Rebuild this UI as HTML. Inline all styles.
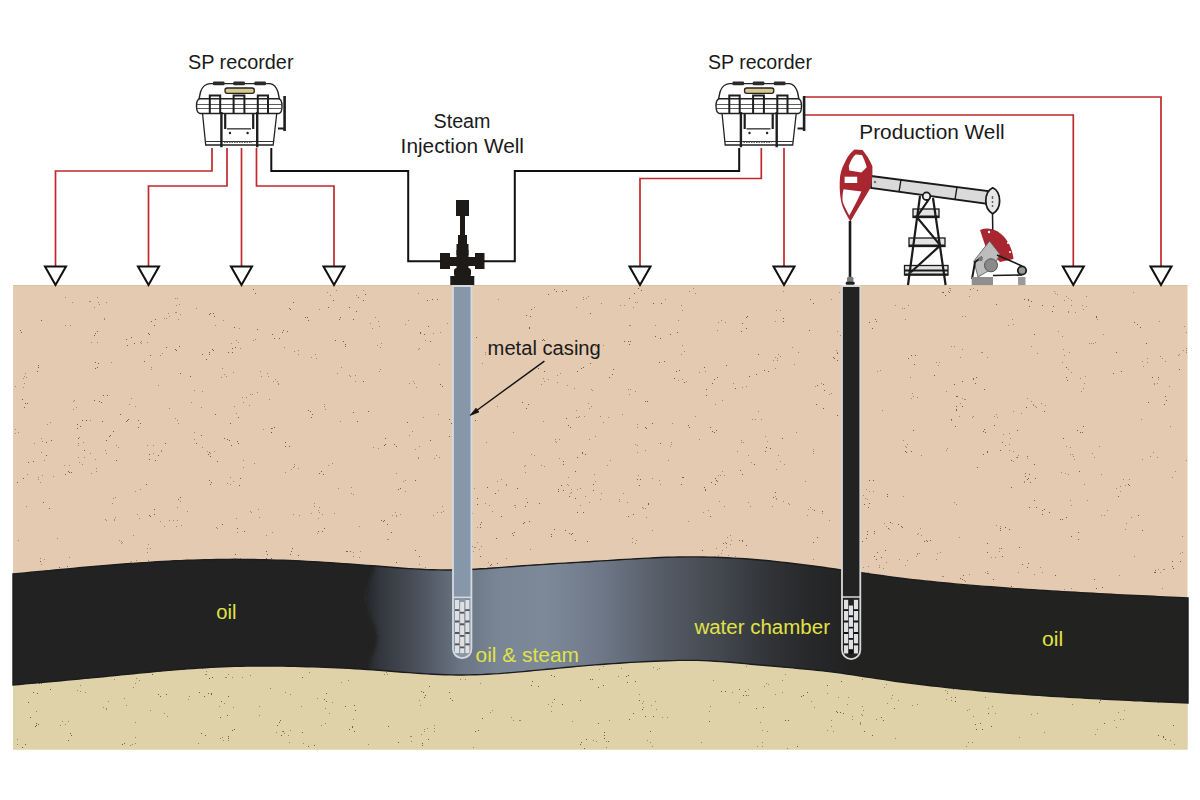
<!DOCTYPE html>
<html><head><meta charset="utf-8">
<style>
html,body{margin:0;padding:0;background:#fff;width:1200px;height:800px;overflow:hidden}
svg{display:block}
text{font-family:"Liberation Sans",sans-serif}
</style></head>
<body>
<svg width="1200" height="800" viewBox="0 0 1200 800">
<defs>
<linearGradient id="chg" x1="365" y1="0" x2="850" y2="0" gradientUnits="userSpaceOnUse"><stop offset="0.004" stop-color="#26272a"/><stop offset="0.031" stop-color="#33363c"/><stop offset="0.113" stop-color="#4c535e"/><stop offset="0.196" stop-color="#6a7482"/><stop offset="0.278" stop-color="#7a8696"/><stop offset="0.371" stop-color="#7d8999"/><stop offset="0.485" stop-color="#6e7888"/><stop offset="0.608" stop-color="#565d68"/><stop offset="0.732" stop-color="#43474e"/><stop offset="0.835" stop-color="#313337"/><stop offset="0.918" stop-color="#27282a"/><stop offset="1.000" stop-color="#222222"/></linearGradient>
<clipPath id="oilclip"><path id="oilp" d="M13 574.0 19 573.4 25 572.9 31 572.3 37 571.7 43 571.1 49 570.6 55 570.0 61 569.5 67 568.9 73 568.4 79 567.8 85 567.3 91 566.8 97 566.3 103 565.7 109 565.3 115 564.8 121 564.3 127 563.8 133 563.4 139 563.0 145 562.6 151 562.2 157 561.8 163 561.5 169 561.1 175 560.8 181 560.6 187 560.3 193 560.1 199 559.9 205 559.7 211 559.6 217 559.5 223 559.4 229 559.4 235 559.3 241 559.4 247 559.4 253 559.5 259 559.6 265 559.7 271 559.9 277 560.1 283 560.3 289 560.5 295 560.8 301 561.0 307 561.4 313 561.7 319 562.0 325 562.4 331 562.8 337 563.2 343 563.6 349 564.0 355 564.5 361 564.9 367 565.4 373 565.8 379 566.3 385 566.8 391 567.3 397 567.7 403 568.2 409 568.6 415 568.9 421 569.3 427 569.6 433 569.8 439 569.9 445 570.0 451 570.0 457 569.9 463 569.7 469 569.5 475 569.2 481 568.8 487 568.5 493 568.0 499 567.6 505 567.1 511 566.7 517 566.2 523 565.8 529 565.4 535 565.0 541 564.6 547 564.2 553 563.8 559 563.4 565 563.1 571 562.7 577 562.4 583 562.0 589 561.7 595 561.3 601 560.9 607 560.6 613 560.2 619 559.8 625 559.4 631 559.1 637 558.7 643 558.4 649 558.1 655 557.8 661 557.5 667 557.3 673 557.1 679 557.0 685 556.9 691 556.9 697 556.9 703 557.0 709 557.1 715 557.3 721 557.5 727 557.8 733 558.1 739 558.4 745 558.8 751 559.3 757 559.7 763 560.3 769 560.8 775 561.4 781 562.1 787 562.8 793 563.5 799 564.2 805 564.9 811 565.7 817 566.5 823 567.3 829 568.2 835 569.0 841 569.9 847 570.7 853 571.6 859 572.4 865 573.3 871 574.1 877 575.0 883 575.8 889 576.6 895 577.4 901 578.1 907 578.9 913 579.6 919 580.2 925 580.9 931 581.5 937 582.1 943 582.7 949 583.3 955 583.9 961 584.4 967 584.9 973 585.4 979 585.9 985 586.4 991 586.8 997 587.3 1003 587.7 1009 588.1 1015 588.6 1021 589.0 1027 589.4 1033 589.8 1039 590.2 1045 590.5 1051 590.9 1057 591.3 1063 591.6 1069 592.0 1075 592.3 1081 592.7 1087 593.0 1093 593.3 1099 593.6 1105 593.9 1111 594.3 1117 594.6 1123 594.9 1129 595.2 1135 595.5 1141 595.8 1147 596.0 1153 596.3 1159 596.6 1165 596.9 1171 597.2 1177 597.5 1188 598.0 L1188 703.0 1177 702.5 1171 702.3 1165 702.0 1159 701.7 1153 701.5 1147 701.2 1141 700.9 1135 700.7 1129 700.4 1123 700.1 1117 699.8 1111 699.5 1105 699.2 1099 698.9 1093 698.6 1087 698.3 1081 697.9 1075 697.6 1069 697.3 1063 696.9 1057 696.5 1051 696.2 1045 695.8 1039 695.4 1033 695.0 1027 694.6 1021 694.1 1015 693.7 1009 693.2 1003 692.7 997 692.3 991 691.8 985 691.2 979 690.7 973 690.1 967 689.6 961 689.0 955 688.4 949 687.8 943 687.1 937 686.4 931 685.8 925 685.1 919 684.3 913 683.6 907 682.8 901 682.0 895 681.2 889 680.3 883 679.4 877 678.5 871 677.6 865 676.7 859 675.8 853 674.9 847 674.0 841 673.1 835 672.3 829 671.6 823 670.9 817 670.3 811 669.6 805 669.0 799 668.5 793 667.9 787 667.4 781 666.9 775 666.3 769 665.8 763 665.3 757 664.7 751 664.2 745 663.6 739 663.0 733 662.5 727 662.0 721 661.6 715 661.2 709 660.8 703 660.6 697 660.4 691 660.4 685 660.4 679 660.4 673 660.6 667 660.7 661 661.0 655 661.2 649 661.5 643 661.8 637 662.1 631 662.4 625 662.8 619 663.2 613 663.6 607 664.0 601 664.5 595 664.9 589 665.4 583 665.9 577 666.4 571 667.0 565 667.5 559 668.1 553 668.7 547 669.3 541 669.9 535 670.4 529 671.0 523 671.6 517 672.1 511 672.6 505 673.1 499 673.6 493 673.9 487 674.3 481 674.6 475 674.8 469 674.9 463 675.0 457 675.0 451 674.9 445 674.7 439 674.5 433 674.2 427 673.9 421 673.5 415 673.1 409 672.6 403 672.2 397 671.7 391 671.2 385 670.7 379 670.3 373 669.9 367 669.5 361 669.1 355 668.7 349 668.4 343 668.1 337 667.8 331 667.5 325 667.3 319 667.1 313 666.9 307 666.7 301 666.5 295 666.4 289 666.3 283 666.1 277 666.1 271 666.0 265 666.0 259 666.0 253 666.0 247 666.1 241 666.2 235 666.3 229 666.5 223 666.8 217 667.0 211 667.3 205 667.7 199 668.1 193 668.5 187 668.9 181 669.4 175 669.8 169 670.4 163 670.9 157 671.4 151 672.0 145 672.6 139 673.1 133 673.7 127 674.3 121 674.9 115 675.5 109 676.1 103 676.7 97 677.3 91 677.9 85 678.4 79 679.0 73 679.6 67 680.1 61 680.7 55 681.2 49 681.8 43 682.3 37 682.9 31 683.4 25 683.9 19 684.5 13 685.0Z"/></clipPath>
<filter id="blur2" x="-50%" y="-10%" width="200%" height="120%"><feGaussianBlur stdDeviation="1.6"/></filter>
<g id="rec">
  <!-- lower body -->
  <path d="M202.5 113 L276.8 113 L273.2 145 L205.7 145 Z" fill="#fff" stroke="#222" stroke-width="1.3"/>
  <line x1="205" y1="141.5" x2="273.5" y2="141.5" stroke="#333" stroke-width="1"/>
  <line x1="224" y1="142.4" x2="252" y2="142.4" stroke="#555" stroke-width="1" stroke-dasharray="1.5 1"/>
  <!-- lid -->
  <path d="M210 83.6 L270 83.6 C274 84 276 86 278 92 L280.4 104 L198 104 L200.5 92 C202.5 86 205 84 210 83.6 Z" fill="#fff" stroke="#222" stroke-width="1.4"/>
  <path d="M200 98.7 H278.5 C281 99 282 102 282 106 C282 110 281 113 279 113.5 H200 C197.5 113 196.5 110 196.5 106 C196.5 102 197.5 99 200 98.7 Z" fill="#fff" stroke="#222" stroke-width="1.4"/>
  <path d="M197 104.5 H282 M197 108.5 H282" stroke="#333" stroke-width="0.8" fill="none"/>
  <!-- tabs -->
  <g fill="#2a2a2a"><rect x="212.9" y="81.6" width="11.7" height="3.6" rx="1.2"/><rect x="233.2" y="81.6" width="11.7" height="3.6" rx="1.2"/><rect x="254.3" y="81.6" width="11.7" height="3.6" rx="1.2"/></g>
  <rect x="225" y="88" width="29.3" height="5.3" rx="2.2" fill="#d9c98c" stroke="#222" stroke-width="1.3"/>
  <!-- latches -->
  <g fill="none" stroke="#1e1e1e">
    <path d="M209.8 114 V95.5 H220.2 V114" stroke-width="2"/>
    <path d="M233.6 114 V95.5 H244.4 V114" stroke-width="2"/>
    <path d="M257.8 114 V95.5 H268 V114" stroke-width="2"/>
    <path d="M221.4 112 V147.3 M257.2 112 V147.3" stroke-width="2.4"/>
    <path d="M225.2 114 V129 M253.2 114 V129" stroke-width="2.2"/>
    <path d="M227 128.8 H251" stroke-width="1.6" stroke="#555"/>
  </g>
  <circle cx="230" cy="133" r="1.2" fill="#222"/><circle cx="247.6" cy="133" r="1.2" fill="#222"/>
  <!-- side handle -->
  <path d="M284.6 96 V131" stroke="#1e1e1e" stroke-width="2.6" fill="none"/>
  <path d="M278 128.5 H284" stroke="#1e1e1e" stroke-width="2" fill="none"/>
</g>
</defs>

<!-- ground -->
<rect x="13" y="285" width="1174.5" height="464.5" fill="#e3cab0"/>
<rect x="13" y="285" width="1174.5" height="1" fill="#d8c3a8"/>
<rect x="13" y="600" width="1174.5" height="149.5" fill="#dfd2a9"/>
<path d="M544 466.5h1M541 465.5h1M568 477.5h1M121 541.5h1M119 540.5h1M122 542.5h1M121 543.5h1M89 301.5h1M396 473.5h1M601 493.5h1M600 499.5h1M111 362.5h1M678 320.5h1M1134 556.5h1M74 400.5h1M76 407.5h1M73 401.5h1M73 409.5h1M905 319.5h1M559 439.5h1M556 442.5h1M555 441.5h1M555 439.5h1M261 376.5h1M260 371.5h1M267 373.5h1M131 591.5h1M725 542.5h1M730 544.5h1M715 404.5h1M722 400.5h1M470 486.5h1M464 480.5h1M883 580.5h1M576 307.5h1M1142 361.5h1M1147 362.5h1M1143 366.5h1M1147 358.5h1M577 489.5h1M580 488.5h1M571 489.5h1M534 307.5h1M1159 321.5h1M789 504.5h1M788 503.5h1M783 501.5h1M53 476.5h1M387 598.5h1M68 583.5h1M70 578.5h1M68 584.5h1M69 579.5h1M936 559.5h1M940 552.5h1M937 553.5h1M151 367.5h1M151 369.5h1M530 549.5h1M375 317.5h1M594 474.5h1M595 481.5h1M253 340.5h1M255 339.5h1M798 352.5h1M792 347.5h1M267 575.5h1M991 557.5h1M999 548.5h1M995 557.5h1M999 551.5h1M627 502.5h1M623 493.5h1M619 501.5h1M619 499.5h1M678 380.5h1M682 379.5h1M686 381.5h1M175 298.5h1M179 304.5h1M177 298.5h1M176 305.5h1M314 506.5h1M311 513.5h1M648 585.5h1M645 586.5h1M651 579.5h1M1107 510.5h1M1055 293.5h1M1057 294.5h1M1054 291.5h1M258 509.5h1M251 512.5h1M250 511.5h1M259 517.5h1M319 507.5h1M531 454.5h1M534 455.5h1M954 346.5h1M951 346.5h1M1072 454.5h1M1070 454.5h1M1066 446.5h1M1070 447.5h1M869 491.5h1M866 489.5h1M873 491.5h1M733 383.5h1M682 345.5h1M684 351.5h1M681 354.5h1M652 598.5h1M95 459.5h1M90 453.5h1M592 390.5h1M591 389.5h1M314 503.5h1M26 377.5h1M23 378.5h1M24 376.5h1M25 373.5h1M637 427.5h1M637 424.5h1M1027 458.5h1M735 556.5h1M419 348.5h1M418 349.5h1M425 340.5h1M293 514.5h1M299 515.5h1M842 345.5h1M837 352.5h1M844 355.5h1M836 350.5h1M906 447.5h1M903 440.5h1M905 446.5h1M907 444.5h1M239 328.5h1M1097 319.5h1M104 318.5h1M104 319.5h1M26 506.5h1M882 410.5h1M946 391.5h1M1024 481.5h1M1024 482.5h1M910 377.5h1M973 416.5h1M972 417.5h1M492 511.5h1M136 560.5h1M130 569.5h1M130 562.5h1M131 561.5h1M105 450.5h1M106 453.5h1M38 479.5h1M40 482.5h1M42 475.5h1M38 477.5h1M418 457.5h1M418 458.5h1M965 316.5h1M962 316.5h1M962 316.5h1M1013 461.5h1M1016 457.5h1M1018 455.5h1M353 494.5h1M351 487.5h1M351 493.5h1M755 419.5h1M758 411.5h1M761 419.5h1M752 419.5h1M513 432.5h1M969 574.5h1M721 320.5h1M725 322.5h1M718 322.5h1M175 418.5h1M177 420.5h1M178 423.5h1M1131 517.5h1M373 447.5h1M378 448.5h1M233 372.5h1M1158 569.5h1M1160 572.5h1M1164 569.5h1M1163 569.5h1M112 503.5h1M115 497.5h1M113 498.5h1M169 562.5h1M996 525.5h1M1000 526.5h1M778 599.5h1M784 593.5h1M784 464.5h1M776 469.5h1M585 496.5h1M580 505.5h1M724 506.5h1M719 501.5h1M437 512.5h1M433 515.5h1M1071 505.5h1M1070 500.5h1M480 578.5h1M481 578.5h1M481 578.5h1M243 467.5h1M243 460.5h1M907 560.5h1M899 559.5h1M356 295.5h1M363 290.5h1M105 519.5h1M106 520.5h1M775 368.5h1M409 435.5h1M412 431.5h1M645 508.5h1M646 517.5h1M642 507.5h1M643 508.5h1M559 458.5h1M959 416.5h1M951 420.5h1M815 386.5h1M821 383.5h1M372 328.5h1M379 326.5h1M370 323.5h1M378 321.5h1M243 402.5h1M246 397.5h1M242 397.5h1M217 528.5h1M216 527.5h1M584 416.5h1M578 417.5h1M485 354.5h1M635 444.5h1M637 452.5h1M1042 572.5h1M1040 567.5h1M202 391.5h1M194 390.5h1M737 451.5h1M18 540.5h1M334 513.5h1M114 519.5h1M114 520.5h1M115 517.5h1M982 352.5h1M987 357.5h1M981 352.5h1M668 597.5h1M668 595.5h1M665 598.5h1M783 291.5h1M916 556.5h1M917 553.5h1M919 553.5h1M917 554.5h1M794 364.5h1M379 371.5h1M380 369.5h1M180 314.5h1M176 312.5h1M178 319.5h1M175 312.5h1M1170 426.5h1M1103 334.5h1M467 393.5h1M467 389.5h1M939 362.5h1M936 362.5h1M938 365.5h1M257 392.5h1M250 394.5h1M1074 459.5h1M1073 456.5h1M1112 596.5h1M1105 595.5h1M829 394.5h1M831 393.5h1M294 466.5h1M291 469.5h1M298 468.5h1M717 330.5h1M293 467.5h1M106 302.5h1M1186 332.5h1M1184 326.5h1M629 325.5h1M630 325.5h1M405 491.5h1M486 442.5h1M748 502.5h1M750 506.5h1M1013 411.5h1M1021 413.5h1M622 414.5h1M863 567.5h1M868 572.5h1M868 566.5h1M868 566.5h1M1040 591.5h1M1035 589.5h1M482 363.5h1M1035 406.5h1M1033 405.5h1M1036 407.5h1M133 535.5h1M543 378.5h1M541 384.5h1M548 379.5h1M544 381.5h1M65 297.5h1M72 302.5h1M571 354.5h1M563 350.5h1M1018 572.5h1M1178 355.5h1M1186 352.5h1M1179 354.5h1M1186 348.5h1M509 566.5h1M506 558.5h1M277 381.5h1M278 383.5h1M273 381.5h1M278 384.5h1M153 445.5h1M147 445.5h1M796 432.5h1M637 302.5h1M635 302.5h1M633 307.5h1M236 340.5h1M240 348.5h1M231 343.5h1M238 342.5h1M1099 446.5h1M1083 388.5h1M1081 391.5h1M813 453.5h1M813 451.5h1M813 449.5h1M918 533.5h1M917 534.5h1M920 528.5h1M921 535.5h1M683 561.5h1M727 537.5h1M730 535.5h1M731 540.5h1M652 530.5h1M515 507.5h1M515 505.5h1M514 505.5h1M460 368.5h1M461 361.5h1M497 406.5h1M169 520.5h1M164 526.5h1M160 521.5h1M1058 331.5h1M1062 336.5h1M812 509.5h1M807 515.5h1M810 507.5h1M808 509.5h1M1119 575.5h1M776 310.5h1M780 310.5h1M220 559.5h1M269 399.5h1M576 410.5h1M576 417.5h1M579 416.5h1M249 405.5h1M1123 479.5h1M1125 485.5h1M1129 479.5h1M433 333.5h1M440 332.5h1M1180 553.5h1M1182 552.5h1M624 305.5h1M620 305.5h1M162 353.5h1M160 355.5h1M318 518.5h1M322 514.5h1M318 510.5h1M319 512.5h1M131 398.5h1M129 404.5h1M135 406.5h1M1154 384.5h1M1158 379.5h1M1154 383.5h1M1157 383.5h1M317 533.5h1M465 387.5h1M467 387.5h1M912 393.5h1M913 396.5h1M911 398.5h1M917 397.5h1M831 299.5h1M839 292.5h1M456 550.5h1M453 547.5h1M419 569.5h1M425 567.5h1M419 564.5h1M1071 300.5h1M1068 298.5h1M1066 296.5h1M1064 300.5h1M1041 403.5h1M1045 405.5h1M437 590.5h1M311 357.5h1M315 354.5h1M316 358.5h1M660 484.5h1M659 480.5h1M652 478.5h1M960 357.5h1M962 349.5h1M741 440.5h1M741 442.5h1M743 442.5h1M441 512.5h1M443 511.5h1M442 506.5h1M1009 444.5h1M1013 451.5h1M1005 445.5h1M1009 450.5h1M472 513.5h1M470 514.5h1M254 463.5h1M846 478.5h1M841 484.5h1M284 347.5h1M943 576.5h1M942 576.5h1M1037 353.5h1M1031 346.5h1M41 452.5h1M44 460.5h1M777 360.5h1M780 356.5h1M777 358.5h1M778 354.5h1M223 320.5h1M215 325.5h1M332 463.5h1M328 465.5h1M439 364.5h1M903 496.5h1M1183 350.5h1M1186 350.5h1M84 457.5h1M78 457.5h1M79 462.5h1M82 464.5h1M69 557.5h1M330 295.5h1M327 292.5h1M336 290.5h1M632 538.5h1M632 542.5h1M635 543.5h1M636 540.5h1M994 416.5h1M996 414.5h1M997 417.5h1M964 399.5h1M960 403.5h1M965 399.5h1M962 398.5h1M70 325.5h1M65 325.5h1M423 417.5h1M120 581.5h1M96 471.5h1M96 468.5h1M91 473.5h1M221 377.5h1M226 376.5h1M222 368.5h1M224 374.5h1M1083 309.5h1M1086 306.5h1M1082 305.5h1M150 548.5h1M147 552.5h1M147 548.5h1M148 544.5h1M1092 453.5h1M1094 457.5h1M194 432.5h1M194 439.5h1M488 562.5h1M147 342.5h1M140 342.5h1M141 343.5h1M141 341.5h1M415 449.5h1M419 446.5h1M338 488.5h1M905 565.5h1M921 455.5h1M447 323.5h1M268 376.5h1M275 379.5h1M1068 311.5h1M1075 312.5h1M1068 312.5h1M1071 305.5h1M416 387.5h1M409 383.5h1M414 383.5h1M413 381.5h1M341 367.5h1M337 373.5h1M829 520.5h1M822 513.5h1M324 404.5h1M325 409.5h1M324 406.5h1M285 472.5h1M294 464.5h1M773 360.5h1M775 357.5h1M90 420.5h1M86 420.5h1M27 474.5h1M1062 362.5h1M1068 369.5h1M140 489.5h1M135 491.5h1M867 499.5h1M865 498.5h1M196 308.5h1M805 481.5h1M477 542.5h1M473 551.5h1M479 549.5h1M481 546.5h1M699 439.5h1M948 291.5h1M950 290.5h1M950 288.5h1M949 288.5h1M201 407.5h1M191 402.5h1M645 450.5h1M1186 460.5h1M116 445.5h1M118 447.5h1M1175 471.5h1M1008 325.5h1M1012 319.5h1M1013 324.5h1M1141 419.5h1M139 518.5h1M137 514.5h1M369 592.5h1M365 587.5h1M363 589.5h1M368 588.5h1M1069 352.5h1M1064 355.5h1M1063 349.5h1M877 371.5h1M880 370.5h1M408 320.5h1M405 324.5h1M485 352.5h1M438 584.5h1M430 583.5h1M440 579.5h1M714 589.5h1M713 584.5h1M908 305.5h1M895 305.5h1M965 581.5h1M959 584.5h1M957 587.5h1M964 580.5h1M387 539.5h1M388 539.5h1M748 455.5h1M751 462.5h1M693 288.5h1M695 293.5h1M689 291.5h1M177 520.5h1M176 526.5h1M173 520.5h1M181 525.5h1M655 325.5h1M775 321.5h1M181 583.5h1M47 424.5h1M50 422.5h1M946 450.5h1M947 448.5h1M252 394.5h1M956 504.5h1M954 502.5h1M573 593.5h1M578 592.5h1M498 299.5h1M294 351.5h1M298 354.5h1M298 350.5h1M230 484.5h1M227 483.5h1M233 481.5h1M230 477.5h1M1125 529.5h1M1126 523.5h1M638 475.5h1M213 597.5h1M360 551.5h1M353 552.5h1M359 557.5h1M353 556.5h1M319 309.5h1M614 561.5h1M164 318.5h1M169 316.5h1M168 313.5h1M166 318.5h1M778 455.5h1M780 461.5h1M610 460.5h1M607 465.5h1M1104 515.5h1M1101 515.5h1M1169 386.5h1M90 301.5h1M98 302.5h1M97 297.5h1M526 498.5h1M595 346.5h1M596 351.5h1M594 354.5h1M603 345.5h1M1071 372.5h1M1162 588.5h1M42 441.5h1M41 438.5h1M34 443.5h1M194 576.5h1M1133 292.5h1M726 547.5h1M718 555.5h1M728 555.5h1M722 550.5h1M418 293.5h1M629 394.5h1M635 391.5h1M628 389.5h1M630 389.5h1M1093 343.5h1M1091 343.5h1M1095 342.5h1M1089 343.5h1M395 512.5h1M396 516.5h1M400 514.5h1M396 515.5h1M180 501.5h1M470 328.5h1M471 329.5h1M466 331.5h1M470 330.5h1M969 296.5h1M973 288.5h1M97 342.5h1M91 342.5h1M177 507.5h1M813 565.5h1M808 565.5h1M813 559.5h1M813 568.5h1M863 495.5h1M161 451.5h1M161 450.5h1M153 453.5h1M33 572.5h1M31 576.5h1M31 578.5h1M38 575.5h1M716 548.5h1M721 553.5h1M524 466.5h1M525 472.5h1M525 465.5h1M272 532.5h1M266 535.5h1M206 592.5h1M207 590.5h1M742 387.5h1M746 386.5h1M699 372.5h1M705 371.5h1M207 451.5h1M202 447.5h1M485 503.5h1M489 505.5h1M671 444.5h1M671 442.5h1M670 446.5h1M681 305.5h1M682 310.5h1M340 421.5h1M695 416.5h1M600 416.5h1M608 417.5h1M603 422.5h1M601 580.5h1M606 581.5h1M608 578.5h1M606 579.5h1M959 537.5h1M856 303.5h1M570 493.5h1M567 484.5h1M568 485.5h1M571 492.5h1M381 343.5h1M380 347.5h1M380 347.5h1M377 345.5h1M477 527.5h1M765 436.5h1M767 441.5h1M1165 361.5h1M1162 358.5h1M1160 356.5h1M772 506.5h1M1084 383.5h1M1085 376.5h1M1080 378.5h1M586 298.5h1M588 296.5h1M583 299.5h1M583 297.5h1M94 307.5h1M99 304.5h1M270 570.5h1M266 574.5h1M506 484.5h1M506 485.5h1M501 479.5h1M497 481.5h1M1172 477.5h1M855 517.5h1M853 510.5h1M82 590.5h1M89 592.5h1M15 429.5h1M15 433.5h1M18 432.5h1M775 496.5h1M776 498.5h1M776 499.5h1M463 515.5h1M467 523.5h1M463 520.5h1M461 524.5h1M158 385.5h1M688 521.5h1M846 424.5h1M843 425.5h1M44 559.5h1M41 564.5h1M40 558.5h1M1071 588.5h1M1064 589.5h1M722 471.5h1M720 475.5h1M718 475.5h1M724 475.5h1M475 547.5h1M474 547.5h1M483 597.5h1M601 303.5h1M708 510.5h1M703 512.5h1M668 460.5h1M392 515.5h1M637 445.5h1M595 436.5h1M589 439.5h1M672 423.5h1M904 308.5h1M902 308.5h1M841 328.5h1M840 335.5h1M837 331.5h1M1034 574.5h1M1084 484.5h1M589 502.5h1M403 481.5h1M405 480.5h1M574 388.5h1M567 385.5h1M436 455.5h1M439 457.5h1M434 458.5h1M987 573.5h1M985 572.5h1M987 571.5h1M988 573.5h1M78 443.5h1M78 445.5h1M83 442.5h1M79 437.5h1M428 594.5h1M431 594.5h1M432 596.5h1M665 299.5h1M557 375.5h1M557 382.5h1M560 373.5h1M438 414.5h1M1003 434.5h1M1010 438.5h1M1009 433.5h1M854 361.5h1M855 364.5h1M1182 536.5h1M474 488.5h1M240 560.5h1M240 558.5h1M237 559.5h1M1042 594.5h1M1153 452.5h1M1150 456.5h1M1157 457.5h1M148 560.5h1M145 563.5h1M1065 473.5h1M1061 472.5h1M1068 474.5h1M271 432.5h1M272 428.5h1M263 429.5h1M1101 474.5h1M1142 459.5h1M237 532.5h1M57 538.5h1M886 562.5h1M879 567.5h1M879 565.5h1M883 568.5h1M69 465.5h1M64 465.5h1M498 490.5h1M1087 500.5h1M462 584.5h1M462 581.5h1M459 582.5h1M460 575.5h1M588 403.5h1M589 408.5h1M591 406.5h1M1116 488.5h1M1120 491.5h1M1120 486.5h1M236 518.5h1M169 408.5h1M892 523.5h1M884 523.5h1M889 529.5h1M886 526.5h1M187 511.5h1M1086 296.5h1M543 421.5h1M210 453.5h1M214 451.5h1M15 386.5h1M24 383.5h1M23 387.5h1M350 376.5h1M355 375.5h1M355 381.5h1M349 375.5h1M359 526.5h1M234 406.5h1M236 413.5h1M1031 401.5h1M1033 404.5h1M1027 398.5h1" stroke="#7a5e48" stroke-width="1" opacity="0.6"/>
<path d="M577 371.5h1M581 368.5h1M583 367.5h1M756 374.5h1M749 376.5h1M1024 299.5h1M235 554.5h1M869 322.5h1M872 328.5h1M875 319.5h1M876 321.5h1M583 512.5h1M577 512.5h1M381 520.5h1M384 520.5h1M1134 322.5h1M1137 324.5h1M1140 327.5h1M803 594.5h1M178 499.5h1M180 497.5h1M146 484.5h1M702 550.5h1M726 543.5h1M723 543.5h1M517 488.5h1M1158 377.5h1M1152 377.5h1M319 473.5h1M323 474.5h1M321 471.5h1M1138 515.5h1M956 410.5h1M956 409.5h1M962 406.5h1M956 406.5h1M809 330.5h1M282 332.5h1M287 331.5h1M279 338.5h1M283 330.5h1M175 566.5h1M170 564.5h1M170 570.5h1M171 561.5h1M837 415.5h1M782 438.5h1M227 439.5h1M224 438.5h1M1094 579.5h1M1096 588.5h1M1102 587.5h1M298 555.5h1M291 551.5h1M292 548.5h1M888 528.5h1M890 522.5h1M84 450.5h1M593 484.5h1M593 490.5h1M305 317.5h1M307 317.5h1M308 320.5h1M495 493.5h1M487 487.5h1M563 464.5h1M563 461.5h1M768 371.5h1M764 370.5h1M704 487.5h1M711 482.5h1M705 489.5h1M705 490.5h1M430 440.5h1M954 384.5h1M962 381.5h1M234 327.5h1M664 361.5h1M659 362.5h1M429 593.5h1M430 587.5h1M415 480.5h1M120 414.5h1M363 381.5h1M565 530.5h1M572 533.5h1M571 534.5h1M569 533.5h1M913 430.5h1M1142 530.5h1M674 378.5h1M679 370.5h1M676 371.5h1M1052 311.5h1M1053 306.5h1M398 489.5h1M400 488.5h1M175 349.5h1M179 346.5h1M176 350.5h1M569 496.5h1M575 498.5h1M257 329.5h1M350 551.5h1M347 551.5h1M346 551.5h1M822 511.5h1M814 510.5h1M669 576.5h1M678 581.5h1M669 575.5h1M442 386.5h1M735 388.5h1M914 364.5h1M908 358.5h1M911 355.5h1M915 355.5h1M590 313.5h1M963 575.5h1M960 578.5h1M962 579.5h1M271 432.5h1M274 427.5h1M496 538.5h1M357 421.5h1M98 363.5h1M97 367.5h1M95 362.5h1M95 368.5h1M647 401.5h1M645 401.5h1M333 300.5h1M328 307.5h1M710 516.5h1M629 298.5h1M783 318.5h1M783 321.5h1M1060 519.5h1M1066 517.5h1M1062 519.5h1M1066 517.5h1M987 451.5h1M983 454.5h1M987 452.5h1M670 334.5h1M677 332.5h1M402 569.5h1M396 562.5h1M846 518.5h1M102 421.5h1M1055 575.5h1M660 443.5h1M566 418.5h1M570 427.5h1M568 425.5h1M247 571.5h1M251 571.5h1M41 320.5h1M1118 496.5h1M1066 367.5h1M1079 471.5h1M612 374.5h1M613 369.5h1M609 377.5h1M222 524.5h1M1001 548.5h1M1002 556.5h1M996 304.5h1M69 472.5h1M71 472.5h1M68 471.5h1M65 474.5h1M867 534.5h1M862 541.5h1M857 340.5h1M850 341.5h1M977 467.5h1M1029 474.5h1M1027 479.5h1M1030 482.5h1M1035 478.5h1M78 438.5h1M78 438.5h1M554 289.5h1M556 291.5h1M548 294.5h1M394 444.5h1M396 446.5h1M558 568.5h1M560 563.5h1M684 382.5h1M368 411.5h1M437 299.5h1M432 299.5h1M427 300.5h1M1067 380.5h1M1066 377.5h1M497 563.5h1M490 565.5h1M491 564.5h1M488 570.5h1M637 479.5h1M640 479.5h1M639 485.5h1M86 420.5h1M126 339.5h1M127 345.5h1M1173 568.5h1M1172 566.5h1M1172 561.5h1M1180 561.5h1M858 448.5h1M1005 527.5h1M1000 530.5h1M1000 528.5h1M1009 529.5h1M149 515.5h1M154 509.5h1M150 516.5h1M154 514.5h1M356 311.5h1M353 319.5h1M895 594.5h1M899 596.5h1M893 593.5h1M1179 369.5h1M46 442.5h1M51 440.5h1M230 423.5h1M238 417.5h1M841 363.5h1M834 358.5h1M837 360.5h1M833 357.5h1M587 541.5h1M67 566.5h1M59 567.5h1M290 554.5h1M77 428.5h1M77 424.5h1M82 420.5h1M80 426.5h1M852 588.5h1M848 587.5h1M849 588.5h1M852 582.5h1M1027 456.5h1M1044 411.5h1M1116 352.5h1M419 556.5h1M415 550.5h1M38 365.5h1M38 367.5h1M37 371.5h1M817 537.5h1M813 542.5h1M984 389.5h1M567 598.5h1M573 593.5h1M237 528.5h1M244 531.5h1M683 477.5h1M682 477.5h1M681 484.5h1M881 557.5h1M885 550.5h1M742 540.5h1M739 540.5h1M742 541.5h1M746 545.5h1M1034 464.5h1M736 578.5h1M732 581.5h1M738 587.5h1M704 367.5h1M1002 442.5h1M1000 450.5h1M1034 334.5h1M232 352.5h1M232 348.5h1M228 352.5h1M235 347.5h1M660 338.5h1M660 338.5h1M655 336.5h1M726 365.5h1M1063 438.5h1M987 552.5h1M740 470.5h1M742 474.5h1M476 337.5h1M149 334.5h1M154 325.5h1M148 333.5h1M712 383.5h1M717 377.5h1M714 379.5h1M542 340.5h1M544 340.5h1M543 339.5h1M629 344.5h1M630 341.5h1M624 341.5h1M628 341.5h1M339 319.5h1M340 317.5h1M454 423.5h1M449 419.5h1M451 423.5h1M449 419.5h1M529 327.5h1M529 328.5h1M529 521.5h1M524 522.5h1M523 523.5h1M661 303.5h1M653 303.5h1M430 341.5h1M209 452.5h1M208 454.5h1M1082 432.5h1M1083 426.5h1M1077 430.5h1M1080 432.5h1M977 290.5h1M970 289.5h1M1028 300.5h1M1031 301.5h1M1028 299.5h1M1029 306.5h1M563 490.5h1M558 491.5h1M561 485.5h1M558 489.5h1M527 502.5h1M525 506.5h1M475 420.5h1M668 582.5h1M667 584.5h1M675 588.5h1M676 587.5h1M1096 317.5h1M1096 316.5h1M385 444.5h1M384 445.5h1M385 438.5h1M449 436.5h1M274 338.5h1M272 334.5h1M229 440.5h1M238 443.5h1M237 441.5h1M231 445.5h1M239 485.5h1M240 478.5h1M116 460.5h1M706 395.5h1M706 389.5h1M648 504.5h1M648 503.5h1M165 443.5h1M27 403.5h1M25 403.5h1M22 399.5h1M24 407.5h1M824 390.5h1M817 385.5h1M823 384.5h1M984 429.5h1M983 431.5h1M985 432.5h1M514 532.5h1M513 535.5h1M512 533.5h1M107 395.5h1M103 395.5h1M101 402.5h1M1148 402.5h1M210 456.5h1M217 461.5h1M289 446.5h1M285 442.5h1M285 446.5h1M714 432.5h1M712 431.5h1M716 430.5h1M710 427.5h1M1027 567.5h1M1022 564.5h1M1028 563.5h1M522 402.5h1M20 330.5h1M21 332.5h1M901 526.5h1M902 527.5h1M898 524.5h1M898 524.5h1M951 419.5h1M955 426.5h1M177 567.5h1M40 561.5h1M770 448.5h1M766 447.5h1M765 451.5h1M976 377.5h1M975 383.5h1M973 379.5h1M973 378.5h1M462 306.5h1M457 309.5h1M460 313.5h1M810 299.5h1M813 303.5h1M1017 457.5h1M1011 460.5h1M501 516.5h1M633 514.5h1M628 516.5h1M815 594.5h1M817 598.5h1M809 599.5h1M809 595.5h1M455 389.5h1M459 390.5h1M934 375.5h1M1049 512.5h1M1044 509.5h1M94 400.5h1M99 401.5h1M949 292.5h1M942 292.5h1M943 292.5h1M945 295.5h1M544 371.5h1M538 368.5h1M887 494.5h1M930 540.5h1M924 541.5h1M927 541.5h1M926 540.5h1M46 455.5h1M582 452.5h1M585 454.5h1M582 453.5h1M577 457.5h1M472 546.5h1M1042 514.5h1M1042 510.5h1M869 480.5h1M873 480.5h1M634 293.5h1M638 288.5h1M641 290.5h1M353 412.5h1M467 536.5h1M467 533.5h1M138 420.5h1M140 423.5h1M138 427.5h1M590 363.5h1M743 592.5h1M745 594.5h1M744 594.5h1M539 503.5h1M874 556.5h1M877 552.5h1M876 559.5h1M349 307.5h1M601 585.5h1M604 586.5h1M595 590.5h1M213 350.5h1M212 349.5h1M773 497.5h1M775 492.5h1M155 460.5h1M158 455.5h1M149 459.5h1M149 454.5h1M363 300.5h1M358 297.5h1M365 294.5h1M358 297.5h1M1011 487.5h1M1026 407.5h1M993 579.5h1M271 428.5h1M1155 572.5h1M1154 572.5h1M1155 570.5h1M562 291.5h1M566 290.5h1M1121 371.5h1M1113 373.5h1M745 587.5h1M738 592.5h1M743 592.5h1M1011 586.5h1M1018 595.5h1M1015 595.5h1M1010 594.5h1M772 589.5h1M253 289.5h1M255 293.5h1M648 597.5h1M645 594.5h1M196 443.5h1M201 435.5h1M528 404.5h1M459 489.5h1M458 483.5h1M453 485.5h1M166 347.5h1M906 452.5h1M911 451.5h1M905 451.5h1M688 425.5h1M689 427.5h1M106 440.5h1M113 431.5h1M109 436.5h1M110 435.5h1M211 482.5h1M209 480.5h1M210 484.5h1M1025 473.5h1M1028 478.5h1M1025 476.5h1M151 321.5h1M155 319.5h1M428 326.5h1M424 334.5h1M420 333.5h1M420 332.5h1M526 408.5h1M97 331.5h1M95 333.5h1M94 335.5h1M575 471.5h1M747 316.5h1M746 317.5h1M1146 343.5h1M754 464.5h1M49 508.5h1M43 502.5h1M715 484.5h1M716 480.5h1M715 478.5h1M717 481.5h1M190 376.5h1M180 373.5h1M440 384.5h1M17 482.5h1M23 478.5h1M957 396.5h1M956 396.5h1M215 414.5h1M575 540.5h1M860 503.5h1M868 507.5h1M869 503.5h1M864 504.5h1M290 309.5h1M293 302.5h1M289 308.5h1M477 504.5h1M477 498.5h1M645 427.5h1M646 428.5h1M652 423.5h1M1017 430.5h1M457 476.5h1M209 352.5h1M209 354.5h1M206 359.5h1M202 354.5h1M1071 536.5h1M1078 539.5h1M1078 532.5h1M134 343.5h1M131 337.5h1M463 432.5h1M1165 396.5h1M1166 400.5h1M1164 404.5h1M183 567.5h1M189 576.5h1M184 568.5h1M551 534.5h1M554 529.5h1M551 536.5h1M1042 305.5h1M209 314.5h1M214 316.5h1M213 313.5h1M210 313.5h1M1019 547.5h1M531 309.5h1M530 316.5h1M526 315.5h1M144 361.5h1M150 355.5h1M742 323.5h1M746 328.5h1M741 331.5h1M480 527.5h1M481 522.5h1M480 524.5h1M994 425.5h1M311 417.5h1M310 411.5h1M308 410.5h1M312 414.5h1M266 558.5h1M271 558.5h1M266 551.5h1M267 554.5h1M987 543.5h1M407 422.5h1M28 462.5h1M33 461.5h1M525 353.5h1M391 532.5h1M758 354.5h1M343 341.5h1M345 344.5h1M335 340.5h1M345 346.5h1M887 496.5h1M383 521.5h1M387 524.5h1M480 556.5h1M866 538.5h1M874 533.5h1M867 531.5h1M874 531.5h1M126 421.5h1M128 419.5h1M127 420.5h1M1029 507.5h1M1034 500.5h1M1036 507.5h1M166 562.5h1M170 564.5h1M823 408.5h1M816 404.5h1M837 353.5h1M322 531.5h1M318 531.5h1M324 528.5h1M1128 484.5h1M1129 485.5h1" stroke="#4a3528" stroke-width="1" opacity="0.7"/>
<path d="M876 719.5h1M895 738.5h1M108 701.5h1M106 709.5h1M534 662.5h1M533 661.5h1M1076 663.5h1M960 665.5h1M958 663.5h1M964 661.5h1M964 661.5h1M741 663.5h1M746 666.5h1M473 747.5h1M135 743.5h1M132 744.5h1M135 737.5h1M130 745.5h1M1123 719.5h1M1124 710.5h1M1120 719.5h1M1118 712.5h1M779 661.5h1M787 662.5h1M786 659.5h1M427 728.5h1M434 725.5h1M834 655.5h1M840 659.5h1M837 658.5h1M748 695.5h1M748 689.5h1M596 741.5h1M593 740.5h1M259 706.5h1M985 697.5h1M265 659.5h1M762 730.5h1M760 722.5h1M767 731.5h1M1095 734.5h1M1097 729.5h1M863 710.5h1M862 715.5h1M862 706.5h1M861 714.5h1M848 697.5h1M847 704.5h1M17 739.5h1M17 744.5h1M259 715.5h1M1084 666.5h1M1083 664.5h1M106 708.5h1M103 707.5h1M1019 737.5h1M893 680.5h1M205 674.5h1M206 674.5h1M206 671.5h1M202 668.5h1M639 694.5h1M288 735.5h1M290 730.5h1M353 719.5h1M499 664.5h1M494 657.5h1M282 731.5h1M150 710.5h1M886 684.5h1M884 687.5h1M551 711.5h1M552 702.5h1M551 706.5h1M548 704.5h1M1037 713.5h1M1031 714.5h1M606 747.5h1M606 747.5h1M606 741.5h1M651 705.5h1M603 666.5h1M599 669.5h1M480 683.5h1M814 707.5h1M811 701.5h1M18 676.5h1M739 702.5h1M838 697.5h1M652 746.5h1M657 669.5h1M653 667.5h1M659 668.5h1M787 748.5h1M973 716.5h1M967 710.5h1M969 709.5h1M1170 740.5h1M1174 744.5h1M223 740.5h1M220 738.5h1M228 740.5h1M222 737.5h1M317 698.5h1M124 698.5h1M126 705.5h1M188 699.5h1M189 696.5h1M511 717.5h1M68 721.5h1M60 725.5h1M62 721.5h1M65 724.5h1M643 707.5h1M642 703.5h1M643 701.5h1M332 702.5h1M289 742.5h1M424 729.5h1M421 734.5h1M424 731.5h1M303 743.5h1M83 677.5h1M998 656.5h1M270 688.5h1M465 679.5h1M460 679.5h1M1096 665.5h1M1123 670.5h1M1116 667.5h1M701 742.5h1M520 667.5h1M524 670.5h1M524 662.5h1M329 713.5h1M325 708.5h1M833 731.5h1M827 730.5h1M831 726.5h1M831 720.5h1M929 663.5h1M929 657.5h1M135 722.5h1M250 675.5h1M242 677.5h1M889 680.5h1M890 680.5h1M710 706.5h1M709 711.5h1M77 690.5h1M80 685.5h1M85 692.5h1M80 691.5h1M667 717.5h1M662 717.5h1M1117 658.5h1M1124 658.5h1M233 707.5h1M36 711.5h1M492 710.5h1M490 712.5h1M912 705.5h1M917 704.5h1M198 743.5h1M1072 704.5h1M655 701.5h1M656 709.5h1M589 659.5h1M583 658.5h1M953 689.5h1M947 691.5h1M947 693.5h1M368 744.5h1M232 677.5h1M226 677.5h1M228 674.5h1M225 677.5h1M114 679.5h1M1100 693.5h1M1101 694.5h1M945 690.5h1M951 700.5h1M946 699.5h1M951 697.5h1M860 722.5h1M1044 732.5h1M891 698.5h1M892 695.5h1M898 700.5h1M887 703.5h1M1110 676.5h1M1118 681.5h1M1116 682.5h1M1117 683.5h1M410 736.5h1M411 736.5h1M411 741.5h1M224 703.5h1M219 706.5h1M713 680.5h1M167 716.5h1M164 713.5h1M1055 689.5h1M1053 688.5h1M1054 690.5h1M931 686.5h1M934 681.5h1M972 742.5h1M1168 661.5h1M732 692.5h1M609 720.5h1M420 705.5h1M419 700.5h1M325 723.5h1M321 725.5h1M775 694.5h1M782 692.5h1M572 721.5h1M519 720.5h1M520 720.5h1M513 720.5h1M893 672.5h1M895 671.5h1M992 706.5h1M988 708.5h1M995 713.5h1M852 719.5h1M852 716.5h1M860 723.5h1M860 724.5h1M757 746.5h1M762 746.5h1M762 742.5h1M434 728.5h1M434 731.5h1M276 732.5h1M284 733.5h1M862 679.5h1M864 672.5h1M782 680.5h1M785 674.5h1M348 680.5h1M341 682.5h1M384 674.5h1M386 672.5h1M387 674.5h1M1116 727.5h1M1114 720.5h1M766 683.5h1M764 686.5h1M768 684.5h1M647 740.5h1M650 742.5h1M968 742.5h1M966 746.5h1M493 661.5h1M486 663.5h1M487 661.5h1M486 666.5h1M411 669.5h1M285 692.5h1M290 694.5h1M301 706.5h1M827 693.5h1M40 665.5h1M618 676.5h1M621 668.5h1M309 672.5h1M133 687.5h1M135 683.5h1M139 680.5h1M136 678.5h1" stroke="#6a5a3a" stroke-width="1" opacity="0.6"/>
<path d="M581 742.5h1M580 744.5h1M586 739.5h1M746 695.5h1M743 695.5h1M739 689.5h1M745 691.5h1M35 726.5h1M753 660.5h1M750 660.5h1M580 700.5h1M302 732.5h1M475 731.5h1M478 730.5h1M725 691.5h1M721 691.5h1M883 720.5h1M881 717.5h1M1163 737.5h1M1163 736.5h1M1158 735.5h1M1165 739.5h1M41 683.5h1M33 692.5h1M39 683.5h1M37 693.5h1M1055 666.5h1M988 713.5h1M635 681.5h1M627 682.5h1M626 676.5h1M628 675.5h1M597 661.5h1M422 745.5h1M422 743.5h1M428 739.5h1M1173 725.5h1M886 673.5h1M883 670.5h1M22 747.5h1M25 744.5h1M50 689.5h1M633 713.5h1M629 719.5h1M807 692.5h1M562 704.5h1M36 723.5h1M38 724.5h1M36 725.5h1M30 717.5h1M846 665.5h1M842 657.5h1M840 656.5h1M450 698.5h1M449 692.5h1M452 700.5h1M211 694.5h1M211 693.5h1M204 696.5h1M124 743.5h1M122 744.5h1M827 685.5h1M642 709.5h1M639 700.5h1M991 726.5h1M398 742.5h1M227 715.5h1M220 717.5h1M797 746.5h1M349 729.5h1M354 731.5h1M352 726.5h1M352 727.5h1M976 729.5h1M975 724.5h1M982 729.5h1M980 723.5h1M872 735.5h1M864 731.5h1M199 692.5h1M208 693.5h1M1104 723.5h1M598 687.5h1M603 685.5h1M107 663.5h1M104 668.5h1M107 662.5h1M258 659.5h1M251 660.5h1M253 664.5h1M256 664.5h1M228 696.5h1M283 731.5h1M281 735.5h1M1158 702.5h1M1156 698.5h1M388 726.5h1M1171 692.5h1M1177 693.5h1M1175 688.5h1M221 701.5h1M201 733.5h1M205 735.5h1M28 702.5h1M584 748.5h1M554 699.5h1M574 656.5h1M580 658.5h1M576 655.5h1M1167 655.5h1M843 713.5h1M836 711.5h1M837 712.5h1M840 712.5h1M653 716.5h1M645 716.5h1M592 679.5h1M590 679.5h1M1091 697.5h1M1092 695.5h1M1100 700.5h1M1099 702.5h1M95 669.5h1M98 669.5h1M532 681.5h1M531 685.5h1M538 686.5h1M234 729.5h1M228 738.5h1M228 736.5h1M232 730.5h1M1016 670.5h1M1011 669.5h1M1014 672.5h1M1014 671.5h1M800 658.5h1M608 741.5h1M604 735.5h1M604 738.5h1M1065 683.5h1M1057 692.5h1M598 723.5h1M604 732.5h1M482 718.5h1M103 661.5h1M106 663.5h1M158 694.5h1M160 696.5h1M166 694.5h1M279 722.5h1M280 720.5h1M277 725.5h1M302 677.5h1M788 720.5h1M785 720.5h1M152 674.5h1M429 686.5h1M894 708.5h1M421 691.5h1M425 695.5h1M423 692.5h1M424 697.5h1M68 740.5h1M70 733.5h1M71 735.5h1M430 668.5h1M427 668.5h1M308 746.5h1M314 745.5h1M1175 693.5h1M354 705.5h1M355 710.5h1M345 706.5h1M709 721.5h1M803 695.5h1M801 696.5h1M650 731.5h1M326 693.5h1M324 699.5h1M326 701.5h1M763 707.5h1M756 708.5h1M551 675.5h1M554 676.5h1M841 681.5h1M212 677.5h1M209 678.5h1M955 701.5h1M955 697.5h1" stroke="#3a3020" stroke-width="1" opacity="0.7"/>
<rect x="13" y="540" width="1174.5" height="60" fill="#e3cab0" clip-path="url(#oilclip)"/>
<!-- oil layer -->
<use href="#oilp" fill="#222220"/>
<g clip-path="url(#oilclip)">
  <rect x="355" y="540" width="495" height="170" fill="url(#chg)"/>
  <path d="M0 540 L377 540 L376 566 C369 580 364 592 365 601 C366 613 377 624 377.5 636 C378 648 371 656 369 664 L368 710 L0 710 Z" fill="#222220" filter="url(#blur2)"/>
</g>

<use href="#oilp" fill="none" stroke="#1c1c1e" stroke-width="1.4"/>
<!-- injection casing -->
<path d="M453 286 L471.4 286 L471.4 649 A9.2 9.2 0 0 1 453 649 Z" fill="#8797aa" stroke="#d6dae0" stroke-width="1.8"/>
<line x1="453" y1="597.3" x2="471.4" y2="597.3" stroke="#d6dae0" stroke-width="1.4"/>
<!-- production casing -->
<path d="M842 286 L860.3 286 L860.3 650 A9.15 9.15 0 0 1 842 650 Z" fill="#222222" stroke="#d8d8d8" stroke-width="1.8"/>
<line x1="841.5" y1="597" x2="860.5" y2="597" stroke="#d8d8d8" stroke-width="1.5"/>

<!-- perforations -->
<g fill="#50565f"><rect x="455" y="599.5" width="4.2" height="54.5"/><rect x="460.1" y="602" width="4.2" height="51.799999999999955"/><rect x="465.3" y="599.5" width="4.2" height="54.5"/></g><g fill="#dfe0e2"><rect x="455" y="599.8" width="4.2" height="9.4"/><rect x="465.3" y="599.8" width="4.2" height="9.4"/><rect x="455" y="611" width="4.2" height="9.5"/><rect x="465.3" y="611" width="4.2" height="9.5"/><rect x="455" y="622.5" width="4.2" height="9.5"/><rect x="465.3" y="622.5" width="4.2" height="9.5"/><rect x="455" y="634" width="4.2" height="9.4"/><rect x="465.3" y="634" width="4.2" height="9.4"/><rect x="455" y="645.3" width="4.2" height="8.2"/><rect x="465.3" y="645.3" width="4.2" height="8.2"/><rect x="460.1" y="602" width="4.2" height="9.8"/><rect x="460.1" y="613.6" width="4.2" height="9.7"/><rect x="460.1" y="625.3" width="4.2" height="9.7"/><rect x="460.1" y="636.8" width="4.2" height="9.7"/><rect x="460.1" y="648.3" width="4.2" height="5.2"/></g><g fill="#111111"><rect x="844" y="599.5" width="4.2" height="54.5"/><rect x="848.8" y="605.5" width="4.2" height="48.299999999999955"/><rect x="853.9" y="599.5" width="4.2" height="54.5"/></g><g fill="#dfe0e2"><rect x="844" y="599.8" width="4.2" height="9.4"/><rect x="853.9" y="599.8" width="4.2" height="9.4"/><rect x="844" y="611" width="4.2" height="9.5"/><rect x="853.9" y="611" width="4.2" height="9.5"/><rect x="844" y="622.5" width="4.2" height="9.5"/><rect x="853.9" y="622.5" width="4.2" height="9.5"/><rect x="844" y="634" width="4.2" height="9.4"/><rect x="853.9" y="634" width="4.2" height="9.4"/><rect x="844" y="645.3" width="4.2" height="8.2"/><rect x="853.9" y="645.3" width="4.2" height="8.2"/><rect x="848.8" y="605.5" width="4.2" height="9.8"/><rect x="848.8" y="617.2" width="4.2" height="9.6"/><rect x="848.8" y="628.5" width="4.2" height="9.5"/><rect x="848.8" y="639.8" width="4.2" height="9.4"/></g>

<!-- wellhead -->
<g fill="#1e1a18">
  <rect x="456" y="200" width="13" height="16"/>
  <rect x="460" y="215" width="5" height="21"/>
  <rect x="458" y="235" width="9" height="10"/>
  <rect x="456.5" y="244" width="12" height="11"/>
  <rect x="440" y="253" width="10" height="16"/>
  <rect x="475" y="253" width="9.5" height="16"/>
  <rect x="449" y="257" width="27" height="9"/>
  <rect x="456.5" y="250" width="12" height="20"/>
  <rect x="454" y="268" width="17" height="9" rx="3"/>
  <rect x="450.3" y="276" width="24" height="9"/>
</g>

<!-- wires -->
<g fill="none" stroke="#c0282b" stroke-width="1.7">
  <path d="M212 148 V171 H55.5 V266"/>
  <path d="M227 148 V186 H148.5 V266"/>
  <path d="M241.5 148 V266"/>
  <path d="M256.5 148 V186 H334 V266"/>
  <path d="M761.3 148 V178.5 H640 V266"/>
  <path d="M784 148 V266"/>
  <path d="M803 97 H1161 V266"/>
  <path d="M803 115 H1073.3 V266"/>
</g>
<g fill="none" stroke="#111" stroke-width="2">
  <path d="M271.3 148 V171 H408.2 V261.2 H441"/>
  <path d="M739.2 148 V171 H514.8 V261.2 H484"/>
</g>
<!-- triangles -->
<g fill="#fff" stroke="#111" stroke-width="2.05" stroke-linejoin="miter">
  <path id="tri" d="M45 266.5 H66 L55.5 285 Z"/>
  <use href="#tri" x="93"/>
  <use href="#tri" x="186"/>
  <use href="#tri" x="278.5"/>
  <use href="#tri" x="584.5"/>
  <use href="#tri" x="728.5"/>
  <use href="#tri" x="1017.8"/>
  <use href="#tri" x="1105.5"/>
</g>

<!-- recorders -->
<use href="#rec"/>
<use href="#rec" x="519.5"/>

<!-- pump jack -->
<g id="pump">
  <!-- tower -->
  <g fill="#e4e4e4" stroke="#1a1a1a" stroke-width="1.3">
    <rect x="913" y="209" width="26" height="8.5"/>
    <rect x="909" y="238" width="36" height="8.5"/>
    <rect x="904.5" y="265.5" width="43.5" height="9.5"/>
  </g>
  <g stroke="#1a1a1a" stroke-width="1.8" fill="none">
    <path d="M913 216.5 H939 M909 245.5 H945 M904.5 270.5 H948 M904.5 274.5 H948"/>
  </g>
  <g stroke="#1a1a1a" stroke-width="2.2" fill="none">
    <path d="M920 196 L908 285 M933 198 L945.6 285"/>
    <path d="M929.8 198 L916.7 217 L940.3 245.4 L910.8 272.3"/>
  </g>
  <!-- beam -->
  <path d="M871 176 L988 191 L988 204 L871 188 Z" fill="#dadada" stroke="#1a1a1a" stroke-width="1.8"/>
  <path d="M901 179.5 L899 192 M957 187 L955 199.5" stroke="#1a1a1a" stroke-width="1.4"/>
  <circle cx="875" cy="182" r="1.3" fill="#777"/>
  <circle cx="926.5" cy="196.2" r="3.8" fill="#eee" stroke="#1a1a1a" stroke-width="1.8"/>
  <path d="M992.7 187.8 C997.5 190 999.6 195.5 999.6 201 C999.6 206.5 997.5 211 992.7 213.8 C988 211 985.8 206.5 985.8 201 C985.8 195.5 988 190 992.7 187.8 Z" fill="#e8e8e8" stroke="#1a1a1a" stroke-width="1.8"/>
  <path d="M992.5 196 v3 M992.5 201 v2 M992.5 205 v2" stroke="#666" stroke-width="1.5"/>
  <path d="M992.5 214 L993 248" stroke="#1a1a1a" stroke-width="1.5"/>
  <!-- horsehead -->
  <path d="M854.6 149.4 L862.5 149.9 C866 154 870 160 872.4 166.2 L872.4 176.7 L870.9 187.2 C864 199 857 210 850.4 221.8 C846 214 842 207 841 200.8 C839.5 192 839.5 185 839.9 178.8 C840.5 172 842 168 844.6 163 C847 157 851 152 854.6 149.4 Z" fill="#a82630"/>
  <path d="M848.8 166.2 C850.5 161 853 157 855.6 154.6 L862 155 C864 159 865.5 163 866.7 167.2 L861.4 172.5 L849.3 170.4 Z" fill="#fff"/>
  <rect x="844.6" y="176.7" width="12.6" height="6.3" fill="#fff"/>
  <path d="M843.6 189.3 L861.4 191.4 C858 200 853 208 849.3 215.5 C846 209 843.5 205 842.5 200.8 C842.3 196 842.8 192 843.6 189.3 Z" fill="#fff"/>
  <path d="M850 221 V278" stroke="#1a1a1a" stroke-width="2.6"/>
  <rect x="847" y="276.8" width="6.4" height="5" rx="1.5" fill="#7a7a7a"/>
  <rect x="845.7" y="281.4" width="9" height="3.4" rx="1.5" fill="#1e1e1e"/>
  <!-- gearbox -->
  <path d="M980 230 C995 224 1011 238 1013.5 259 L1000 262 L986 248 Z" fill="#a82630"/>
  <g fill="#fff"><circle cx="989" cy="232" r="1.2"/><circle cx="1008" cy="243" r="1.1"/><circle cx="1010" cy="252" r="1.1"/></g>
  <path d="M973.8 261 L989.6 241 L999.9 254.3 L993 268 L978 277 Z" fill="#bdbdbd" stroke="#555" stroke-width="0.8"/>
  <path d="M972 279 L975 262 L982 257" stroke="#1a1a1a" stroke-width="2" fill="none"/>
  <circle cx="991" cy="265.3" r="6.5" fill="#8a8a8a" stroke="#555" stroke-width="1"/>
  <circle cx="980.6" cy="259" r="2.3" fill="#777"/>
  <path d="M997 255 L1022 266 M993 275.5 L1022 275" stroke="#1a1a1a" stroke-width="1.6"/>
  <circle cx="1022" cy="270.5" r="4.2" fill="#999" stroke="#1a1a1a" stroke-width="1.8"/>
  <rect x="1018" y="277" width="7.5" height="8" fill="#9a9a9a"/>
  <rect x="971.7" y="277" width="21.3" height="8" fill="#8f8f8f"/>
</g>

<!-- texts -->
<g fill="#1a1a1a" font-size="19.5">
  <text x="188" y="68.5" textLength="105.5" lengthAdjust="spacingAndGlyphs">SP recorder</text>
  <text x="708" y="68.5" textLength="104" lengthAdjust="spacingAndGlyphs">SP recorder</text>
  <text x="433.5" y="128" textLength="57" lengthAdjust="spacingAndGlyphs">Steam</text>
  <text x="400.6" y="153" textLength="123.4" lengthAdjust="spacingAndGlyphs">Injection Well</text>
  <text x="859.3" y="138.7" textLength="145.4" lengthAdjust="spacingAndGlyphs">Production Well</text>
  <text x="487.6" y="354.8" textLength="113.2" lengthAdjust="spacingAndGlyphs">metal casing</text>
</g>
<path d="M544.4 361.1 L476 411" stroke="#111" stroke-width="1.4"/>
<path d="M470.1 415.4 L476.0 408.2 L478.9 412.0 Z" fill="#111" stroke="#111" stroke-width="0.8" stroke-linejoin="round"/>
<g fill="#e0e346" font-size="20">
  <text x="216.3" y="619.2" textLength="20.2" lengthAdjust="spacingAndGlyphs">oil</text>
  <text x="475.5" y="661.8" textLength="103.5" lengthAdjust="spacingAndGlyphs">oil &amp; steam</text>
  <text x="694.4" y="633.8" textLength="135.6" lengthAdjust="spacingAndGlyphs">water chamber</text>
  <text x="1042" y="646" textLength="21.2" lengthAdjust="spacingAndGlyphs">oil</text>
</g>
</svg>
</body></html>
